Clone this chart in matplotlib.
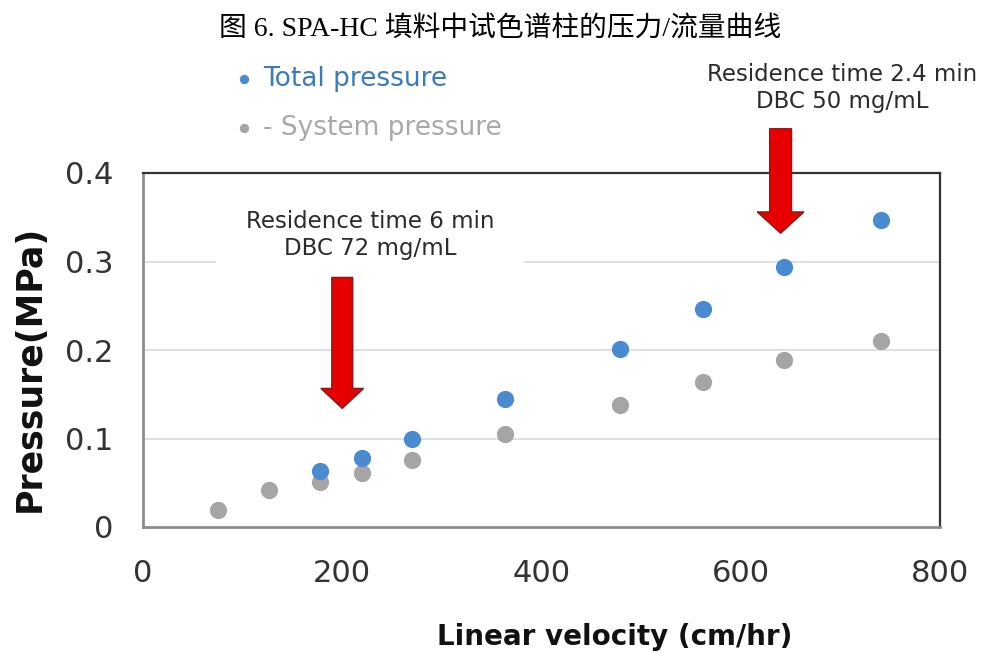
import matplotlib.pyplot as plt

# data
velocity = [75, 126, 178, 220, 270, 363, 479, 562, 643, 741]
system_pressure = [0.019, 0.042, 0.051, 0.061, 0.076, 0.105, 0.138, 0.164, 0.189, 0.210]
total_velocity = [178, 220, 270, 363, 479, 562, 643, 741]
total_pressure = [0.063, 0.078, 0.099, 0.145, 0.201, 0.246, 0.294, 0.347]

x_ticks = [0, 200, 400, 600, 800]
y_ticks = [0, 0.1, 0.2, 0.3, 0.4]
y_tick_labels = ['0', '0.1', '0.2', '0.3', '0.4']

blue = '#4a8bd0'
gray = '#a5a5a5'
text_col = '#2b2b2b'

plt.rcParams['font.family'] = 'DejaVu Sans'

fig = plt.figure(figsize=(9.91, 6.53), dpi=100)
ax = fig.add_axes([143/991, 1-527/653, (940-143)/991, (527-173)/653])

ax.set_xlim(0, 800)
ax.set_ylim(0, 0.4)

# gridlines
for yv in y_ticks[1:-1]:
    ax.axhline(yv, color='#d9d9d9', lw=1.2, zorder=0)

sys_pts = ax.scatter(velocity, system_pressure, s=130, color=gray, zorder=3,
                     label='- System pressure')
tot_pts = ax.scatter(total_velocity, total_pressure, s=130, color=blue, zorder=4,
                     label='Total pressure')

ax.set_xticks(x_ticks)
ax.set_yticks(y_ticks)
ax.set_yticklabels(y_tick_labels)
ax.tick_params(length=0, labelsize=22, colors='#333333')
ax.tick_params(axis='x', pad=23)
ax.tick_params(axis='y', pad=21)

for side in ['top', 'right']:
    ax.spines[side].set_color('#333333')
    ax.spines[side].set_linewidth(1.6)
for side in ['left', 'bottom']:
    ax.spines[side].set_color('#8c8c8c')
    ax.spines[side].set_linewidth(2)

fig.text(615/991, 1-637/653, 'Linear velocity (cm/hr)', fontsize=20,
         fontweight='bold', ha='center', va='center', color='#111111')
fig.text(30/991, 1-368/653, 'Pressure(MPa)', fontsize=25, fontweight='bold',
         rotation=90, ha='center', va='center', color='#111111')

# title
fig.text(500/991, 1-30/653, '图 6. SPA-HC 填料中试色谱柱的压力/流量曲线', fontsize=20,
         family=['Liberation Serif', 'Noto Sans CJK SC'], ha='center', va='center')

# legend
leg = fig.legend(handles=[tot_pts, sys_pts], loc='upper left',
                 bbox_to_anchor=(231/991, 1-66/653), frameon=False,
                 fontsize=19, markerscale=0.5, handlelength=1.0,
                 handletextpad=0.2, labelspacing=0.87, borderpad=0,
                 borderaxespad=0, labelcolor=['#3a7bbf', '#a9a9a9'])

# annotations
ax.text(228, 0.33, 'Residence time 6 min\nDBC 72 mg/mL', fontsize=16.5,
        ha='center', va='center', color=text_col, zorder=2,
        bbox=dict(boxstyle='square,pad=1.3', fc='white', ec='none'))
ax.text(702, 0.496, 'Residence time 2.4 min\nDBC 50 mg/mL', fontsize=16.5,
        ha='center', va='center', color=text_col)

ax.arrow(200, 0.282, 0, 0.134 - 0.282, width=21, head_width=43,
         head_length=0.0226, length_includes_head=True, fc='#e60000',
         ec='#8b1a1a', lw=1, zorder=5, clip_on=False)
ax.arrow(640, 0.45, 0, 0.332 - 0.45, width=22, head_width=47,
         head_length=0.024, length_includes_head=True, fc='#e60000',
         ec='#8b1a1a', lw=1, zorder=5, clip_on=False)

fig.savefig('out.png', dpi=100)
